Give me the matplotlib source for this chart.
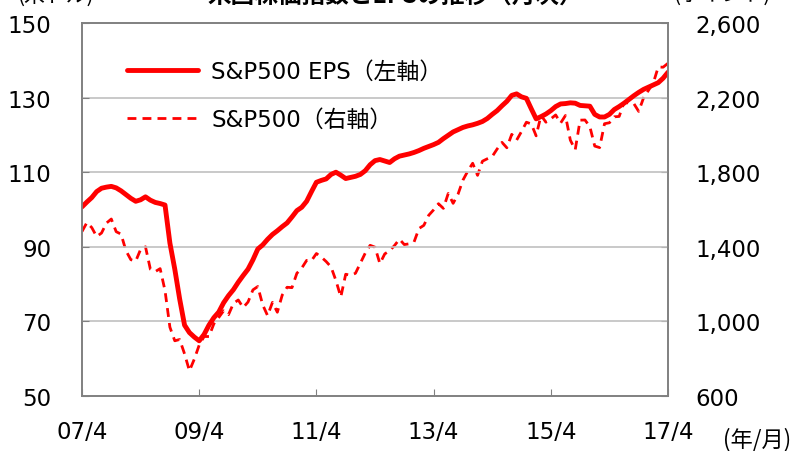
import matplotlib
matplotlib.use("Agg")
import matplotlib.pyplot as plt
import numpy as np

plt.rcParams['font.family'] = ['DejaVu Sans', 'Noto Sans CJK JP']

# monthly, 2007/4 .. 2017/4
eps = [100.7, 102.0, 103.2, 104.8, 105.7, 106.0, 106.2, 105.8, 105.0, 104.0, 103.0, 102.2,
       102.6, 103.4, 102.5, 101.9, 101.6, 101.2, 91.0, 84.0, 76.0, 69.0, 67.0, 65.8,
       64.8, 66.5, 69.0, 71.0, 72.5, 75.0, 76.9, 78.5, 80.5, 82.3, 84.0, 86.5,
       89.4, 90.5, 92.0, 93.3, 94.3, 95.4, 96.4, 98.0, 99.7, 100.6, 102.2, 104.8,
       107.3, 107.8, 108.2, 109.4, 110.0, 109.2, 108.3, 108.6, 108.9, 109.4, 110.4, 112.0,
       113.1, 113.4, 113.0, 112.6, 113.6, 114.3, 114.6, 114.9, 115.3, 115.8, 116.4, 116.9,
       117.4, 118.0, 119.0, 119.9, 120.8, 121.4, 122.0, 122.4, 122.7, 123.1, 123.6, 124.4,
       125.5, 126.5, 127.8, 129.0, 130.6, 131.0, 130.2, 129.8, 127.0, 124.3, 124.9, 125.6,
       126.5, 127.6, 128.3, 128.4, 128.6, 128.5, 127.9, 127.8, 127.7, 125.5, 124.8, 124.8,
       125.5, 126.8, 127.6, 128.5, 129.5, 130.5, 131.4, 132.2, 132.8, 133.4, 134.0, 135.2,
       136.8]

spx = [1482, 1530, 1503, 1455, 1474, 1527, 1549, 1481, 1468, 1379, 1331, 1323,
       1386, 1400, 1280, 1267, 1283, 1165, 969, 896, 903, 826, 735, 798,
       873, 919, 919, 987, 1021, 1057, 1036, 1096, 1115, 1074, 1104, 1169,
       1187, 1089, 1031, 1102, 1049, 1141, 1183, 1181, 1258, 1286, 1327, 1326,
       1364, 1345, 1321, 1292, 1219, 1131, 1253, 1247, 1258, 1312, 1366, 1408,
       1398, 1310, 1362, 1379, 1407, 1441, 1412, 1416, 1426, 1498, 1515, 1569,
       1598, 1631, 1606, 1686, 1633, 1682, 1757, 1806, 1848, 1783, 1859, 1872,
       1884, 1924, 1960, 1931, 2003, 1972, 2018, 2068, 2059, 1995, 2105, 2068,
       2086, 2107, 2063, 2104, 1972, 1920, 2079, 2080, 2044, 1940, 1932, 2060,
       2065, 2097, 2099, 2174, 2171, 2168, 2126, 2199, 2239, 2279, 2364, 2363,
       2384]

xtick_labels = ['07/4', '09/4', '11/4', '13/4', '15/4', '17/4']
left_ticks = [50, 70, 90, 110, 130, 150]
right_ticks = [600, 1000, 1400, 1800, 2200, 2600]

months = np.arange(len(eps))
red = '#ff0000'
fs = 16.5

fig = plt.figure(figsize=(7.93, 4.52), dpi=100)
ax = fig.add_axes([82 / 793, 1 - 397 / 452, 586 / 793, 373 / 452])
ax2 = ax.twinx()

ax.set_ylim(50, 150)
ax.set_yticks(left_ticks)
ax2.set_ylim(600, 2600)
ax2.set_yticks(right_ticks)
ax2.set_yticklabels([f'{v:,}' for v in right_ticks])
ax.set_xlim(0, 120)
ax.set_xticks(np.arange(0, 121, 24))
ax.set_xticklabels(xtick_labels)

for v in left_ticks[1:-1]:
    ax.axhline(v, color='#c0c0c0', lw=1.2, zorder=0)

l2, = ax2.plot(months, spx, color=red, lw=2.0, ls=(0, (3.2, 2.2)),
               label='S&P500（右軸）')
l1, = ax.plot(months, eps, color=red, lw=3.5, label='S&P500 EPS（左軸）',
              solid_capstyle='round')
ax.set_zorder(ax2.get_zorder() + 1)
ax.patch.set_visible(False)

for a in (ax, ax2):
    for s in a.spines.values():
        s.set_color('#808080')
        s.set_linewidth(1.2)
ax.tick_params(axis='y', direction='in', length=5, color='#808080',
               labelsize=fs, pad=22)
ax.tick_params(axis='x', direction='in', length=5, color='#808080',
               labelsize=fs, pad=17)
ax2.tick_params(axis='y', direction='in', length=5, color='#808080',
                labelsize=fs, pad=20)

leg = ax.legend(handles=[l1, l2], loc='upper left', frameon=False,
                bbox_to_anchor=(0.0415, 0.957), handlelength=3.1,
                handletextpad=0.57, labelspacing=1.1,
                prop={'family': ['DejaVu Sans', 'Noto Sans CJK JP'], 'size': fs})

fig.text(0.998, 1 - 440 / 452, '(年/月)', ha='right', va='center', fontsize=16,
         family=['Noto Sans CJK JP', 'DejaVu Sans'])
fig.text(55 / 793, 1 + 4 / 452, '(米ドル)', ha='center', va='center', fontsize=15,
         family=['Noto Sans CJK JP', 'DejaVu Sans'])
fig.text(395 / 793, 1 + 4 / 452, '米国株価指数とEPSの推移（月次）', ha='center',
         va='center', fontsize=17, fontweight='bold',
         family=['Noto Sans CJK JP', 'DejaVu Sans'])
fig.text(722 / 793, 1 + 4 / 452, '(ポイント)', ha='center', va='center', fontsize=15,
         family=['Noto Sans CJK JP', 'DejaVu Sans'])

fig.savefig('out.png', dpi=100)
